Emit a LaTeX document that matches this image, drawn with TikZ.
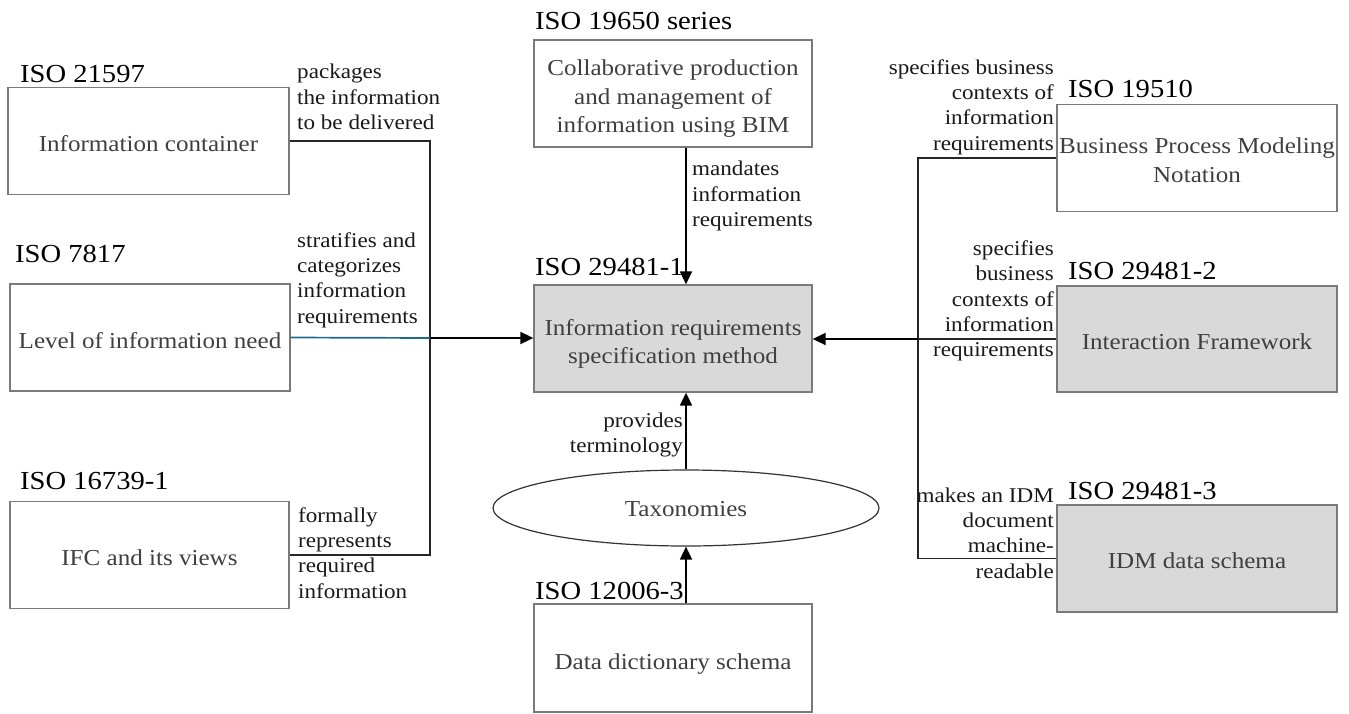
\documentclass[tikz,border=0pt]{standalone}
\usepackage{fontspec}
\setmainfont[FakeStretch=1.1]{Liberation Serif}
\usetikzlibrary{arrows.meta,shapes.geometric}
\definecolor{boxtext}{HTML}{3F3F3F}
\definecolor{boxline}{HTML}{7A7A7A}
\definecolor{fillgray}{HTML}{D9D9D9}
\definecolor{bluel}{HTML}{1F6A8F}
\newcommand{\mytext}[2]{\raisebox{0pt}[\dimexpr\height+#1\relax][\depth]{\begin{tabular}{@{}c@{}}#2\end{tabular}}}
\tikzset{
  box/.style={draw=boxline,line width=1.3pt,minimum width=#1,minimum height=107pt,inner sep=0pt,align=center,text=boxtext,font=\fontsize{22.8}{28.5}\selectfont},
  gbox/.style={box=#1,fill=fillgray},
  head/.style={anchor=base west,inner sep=0pt,font=\fontsize{26}{30}\selectfont},
  lab/.style={inner sep=0pt,font=\fontsize{21}{25.3}\selectfont,text=black!90},
  conn/.style={line width=1.4pt,black!85},
  arr/.style={line width=1.8pt,-{Triangle[length=13pt,width=12pt]}},
}
\begin{document}
\begin{tikzpicture}[x=1pt,y=-1pt]
\useasboundingbox (0,0) rectangle (1349,713);
% boxes
\node[box=281pt] (IC) at (148.5,141) {\mytext{10pt}{Information container}};
\node[box=280pt] (LoIN) at (150,337.5) {\mytext{10pt}{Level of information need}};
\node[box=279pt] (IFC) at (149.5,555) {\mytext{10pt}{IFC and its views}};
\node[box=278pt] (Collab) at (673,93.5) {\mytext{10pt}{Collaborative production\\and management of\\information using BIM}};
\node[gbox=278pt] (IRSM) at (673,338.5) {\mytext{11pt}{Information requirements\\specification method}};
\node[draw=black!80,line width=1.2pt,ellipse,minimum width=386pt,minimum height=76pt,inner sep=0pt,text=boxtext,font=\fontsize{22.8}{28}\selectfont] (Tax) at (686,508) {\mytext{6pt}{Taxonomies}};
\node[box=278pt,minimum height=108pt] (DD) at (673,658) {\mytext{12pt}{Data dictionary schema}};
\node[box=280pt] (BPMN) at (1197,158) {\mytext{9pt}{Business Process Modeling\\Notation}};
\node[gbox=280pt,minimum height=106pt] (IF) at (1197,339) {\mytext{10pt}{Interaction Framework}};
\node[gbox=280pt] (IDM) at (1197,558.5) {\mytext{8pt}{IDM data schema}};
% headings
\node[head] (hIC) at (20,82) {ISO 21597};
\node[head] (hLoIN) at (15,262) {ISO 7817};
\node[head] (hIFC) at (20,489) {ISO 16739-1};
\node[head] (hCollab) at (535,29) {ISO 19650 series};
\node[head] (hIRSM) at (535,275) {ISO 29481-1};
\node[head] (hDD) at (535,599) {ISO 12006-3};
\node[head] (hBPMN) at (1068,97) {ISO 19510};
\node[head] (hIF) at (1068,279) {ISO 29481-2};
\node[head] (hIDM) at (1068,499) {ISO 29481-3};
% junctions
\coordinate (jL) at (430,338);
\coordinate (jR) at (918,339);
% connectors left
\draw[conn] (IC.east) -| (jL);
\draw[conn] (IFC.east) -| (jL);
\draw[line width=1.7pt,bluel] (LoIN.east) -- (jL);
\draw[arr] (jL) -- (jL -| IRSM.west);
% connectors right
\draw[conn] (BPMN.west) -| (jR);
\draw[conn] (IDM.west) -| (jR);
\draw[conn] (IF.west) -- (jR);
\draw[arr] (jR) -- (jR -| IRSM.east);
% vertical
\draw[arr] (Collab.south -| Tax.north) -- (IRSM.north -| Tax.north);
\draw[arr] (Tax.north) -- (IRSM.south -| Tax.north);
\draw[arr] (DD.north -| Tax.south) -- (Tax.south);
% labels
\node[lab,anchor=west,align=left] (lIC) at (297,97) {packages\\the information\\to be delivered};
\node[lab,anchor=west,align=left] (lLoIN) at (297,280) {stratifies and\\categorizes\\information\\requirements};
\node[lab,anchor=west,align=left] (lIFC) at (298,553) {formally\\represents\\required\\information};
\node[lab,anchor=west,align=left] (lCollab) at (692,196) {mandates\\information\\requirements};
\node[lab,anchor=east,align=right] (lTax) at (683,435) {provides\\terminology};
\node[lab,anchor=east,align=right] (lBPMN) at (1054,107) {specifies business\\contexts of\\information\\requirements};
\node[lab,anchor=east,align=right] (lIF) at (1054,301) {specifies\\business\\contexts of\\information\\requirements};
\node[lab,anchor=east,align=right] (lIDM) at (1054,533) {makes an IDM\\document\\machine-\\readable};
\end{tikzpicture}
\end{document}
